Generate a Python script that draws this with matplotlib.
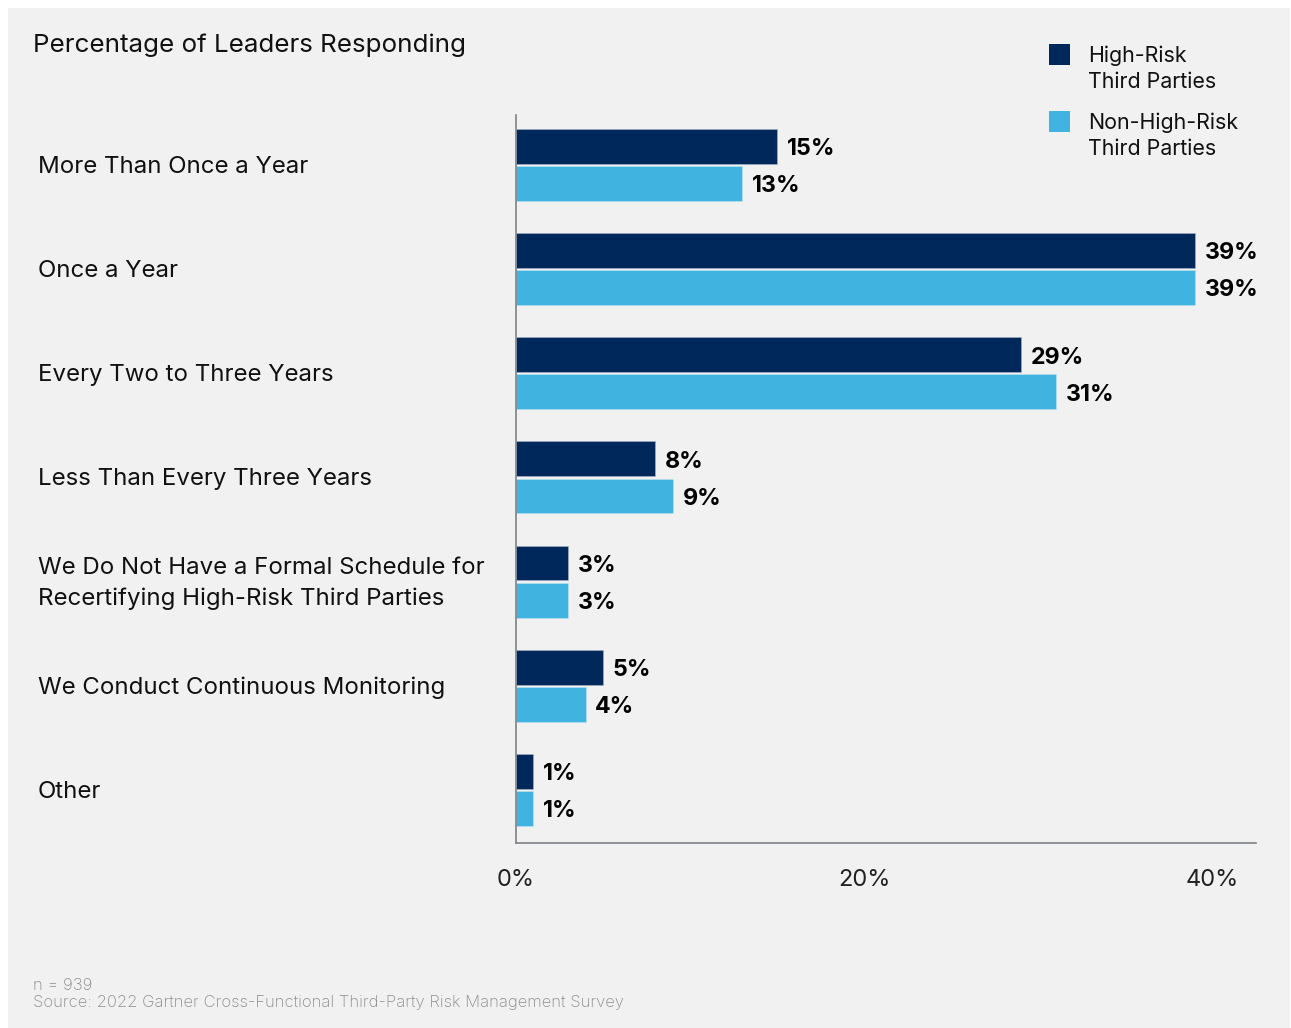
import matplotlib.pyplot as plt
import matplotlib.transforms as mtransforms
from matplotlib.patches import Rectangle

plt.rcParams['font.family'] = ['Inter', 'DejaVu Sans']

categories = ['More Than Once a Year', 'Once a Year', 'Every Two to Three Years',
              'Less Than Every Three Years',
              'We Do Not Have a Formal Schedule for\nRecertifying High-Risk Third Parties',
              'We Conduct Continuous Monitoring', 'Other']
high_risk = [15, 39, 29, 8, 3, 5, 1]
non_high_risk = [13, 39, 31, 9, 3, 4, 1]
series_names = ['High-Risk\nThird Parties', 'Non-High-Risk\nThird Parties']
xticks = [0, 20, 40]

dark = '#00285a'
light = '#41b3e0'
bg = '#f1f1f1'

fig = plt.figure(figsize=(12.91, 10.28), dpi=100)
fig.patch.set_facecolor('white')
fig.patches.append(Rectangle((8 / 1291, 0), 1282 / 1291, 1020 / 1028,
                             transform=fig.transFigure, facecolor=bg,
                             edgecolor='none', zorder=-10))

ax = fig.add_axes([516 / 1291, 1 - 843 / 1028, 740 / 1291, 728 / 1028])
ax.set_facecolor('none')

h = 0.335
off = 0.178
ys = list(range(len(categories)))
b1 = ax.barh([y - off for y in ys], high_risk, height=h, color=dark,
             edgecolor='#a9b6c6', linewidth=0.4)
b2 = ax.barh([y + off for y in ys], non_high_risk, height=h, color=light,
             edgecolor='#bfe3f3', linewidth=0.4)

for bars, vals in ((b1, high_risk), (b2, non_high_risk)):
    for bar, v in zip(bars, vals):
        ax.annotate(f'{v}%', (bar.get_width(), bar.get_y() + bar.get_height() / 2),
                    xytext=(7, -2), textcoords='offset points', va='center',
                    ha='left', fontsize=16.7, fontweight='bold', color='black')

ax.set_xlim(0, 42.5)
ax.set_ylim(6.51, -0.48)
ax.set_xticks(xticks)
ax.set_xticklabels([f'{t}%' for t in xticks], fontsize=17, color='#222222')
ax.set_yticks([])
ax.tick_params(axis='x', length=0, pad=19)
for s in ('top', 'right'):
    ax.spines[s].set_visible(False)
for s in ('left', 'bottom'):
    ax.spines[s].set_color('#7d8288')
    ax.spines[s].set_linewidth(1.2)

# category names, left aligned against the figure edge
trans = mtransforms.blended_transform_factory(fig.transFigure, ax.transData)
trans = trans + mtransforms.ScaledTranslation(0, -2 / 100, fig.dpi_scale_trans)
for y, name in zip(ys, categories):
    ax.text(38 / 1291, y, name, transform=trans, ha='left', va='center',
            fontsize=17.3, color='#111111', linespacing=1.45)

fig.text(33 / 1291, 1 - 45 / 1028, 'Percentage of Leaders Responding',
         ha='left', va='center', fontsize=18.7, color='#111111')

# legend drawn by hand
for i, (name, col) in enumerate(zip(series_names, [dark, light])):
    top = 44 + i * 67
    fig.patches.append(Rectangle((1049 / 1291, 1 - (top + 21) / 1028), 21 / 1291, 21 / 1028,
                                 transform=fig.transFigure, facecolor=col,
                                 edgecolor='none'))
    fig.text(1088 / 1291, 1 - (top + 1) / 1028, name, ha='left', va='top',
             fontsize=15.4, color='#111111', linespacing=1.38)

fig.text(33 / 1291, 1 - 985 / 1028, 'n = 939', ha='left', va='center',
         fontsize=12, color='#8c8c8c', fontweight='light')
fig.text(33 / 1291, 1 - 1003 / 1028,
         'Source: 2022 Gartner Cross-Functional Third-Party Risk Management Survey',
         ha='left', va='center', fontsize=12, color='#8c8c8c', fontweight='light')

fig.savefig('out.png', dpi=100, facecolor=fig.get_facecolor())
